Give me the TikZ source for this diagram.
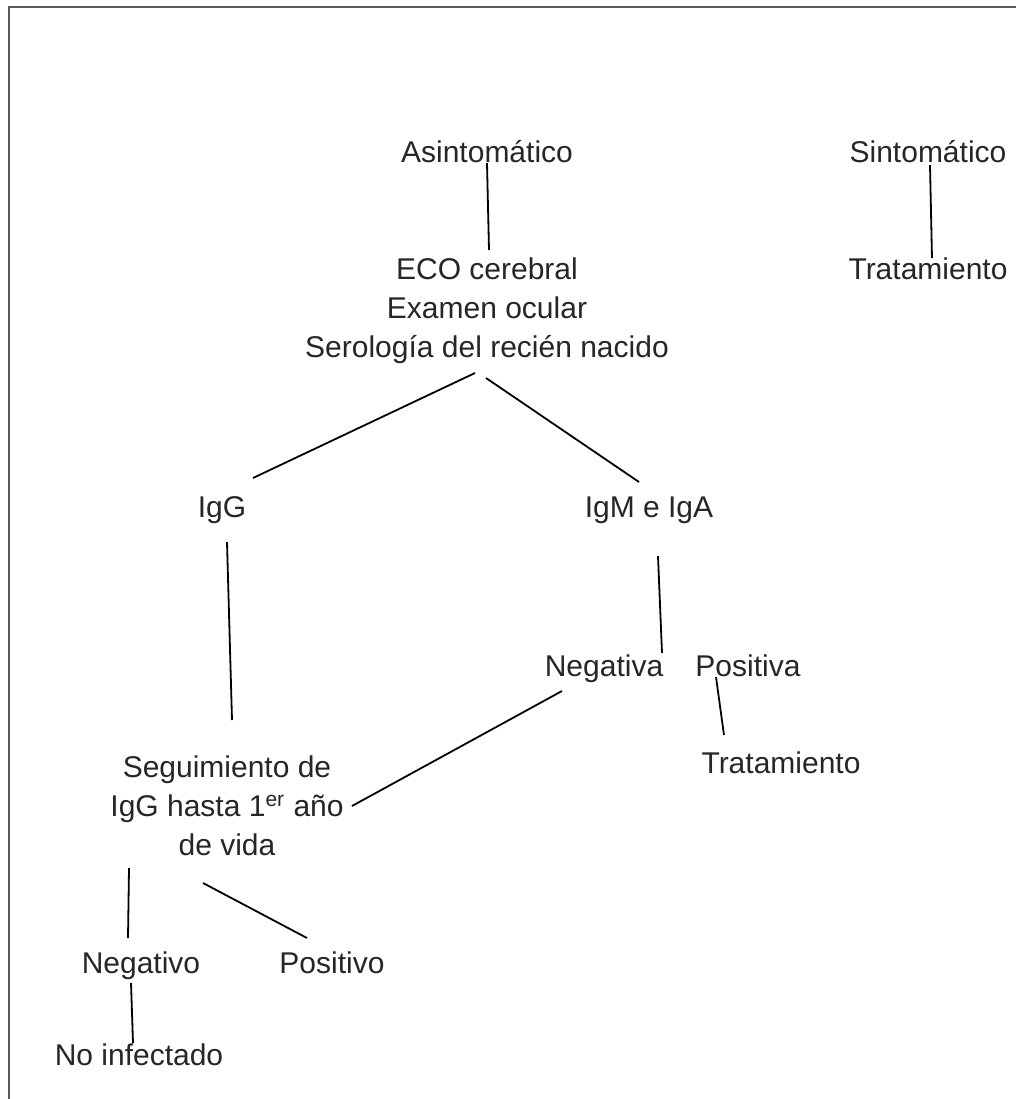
\documentclass[tikz,border=0pt]{standalone}
\usepackage{fontspec}
\setmainfont{Liberation Sans}
\usetikzlibrary{calc}

\begin{document}
\begin{tikzpicture}[x=0.5pt, y=-0.5pt,
    txt/.style={inner sep=0pt, text=black!85, font=\fontsize{15}{19.5}\selectfont},
    multi/.style={txt, align=center},
    conn/.style={line width=0.9pt}]
    \useasboundingbox (0,0) rectangle (1016,1099);
    \draw[black!65, line width=1.3pt] (9,1099) -- (9,7) -- (1016,7);

    \node[txt, anchor=base] (asin) at (487,162) {Asintomático};
    \node[txt, anchor=base] (sint) at (928,162) {Sintomático};
    \node[txt, anchor=base] (trat1) at (928,279) {Tratamiento};
    \node[multi] (eco) at (487,311) {ECO cerebral\\Examen ocular\\Serología del recién nacido};
    \node[txt, anchor=base] (igg) at (222,517) {IgG};
    \node[txt, anchor=base] (igm) at (649,517) {IgM e IgA};
    \node[txt, anchor=base] (neg) at (604,676) {Negativa};
    \node[txt, anchor=base] (pos) at (748,676) {Positiva};
    \node[txt, anchor=base] (trat2) at (781,773) {Tratamiento};
    \node[multi] (seg) at (227,806) {Seguimiento de\\IgG hasta 1\textsuperscript{er} año\\de vida};
    \node[txt, anchor=base] (nego) at (141,973) {Negativo};
    \node[txt, anchor=base] (posi) at (332,973) {Positivo};
    \node[txt, anchor=base] (noinf) at (139,1065) {No infectado};

    \draw[conn] ($(asin.base)+(0,1)$) -- ($(eco.center)+(2,-61)$);
    \draw[conn] ($(sint.base)+(2,3)$) -- ($(trat1.base)+(4,-21)$);
    \draw[conn] ($(eco.center)+(-12,62)$) -- ($(igg.base)+(31,-39)$);
    \draw[conn] ($(eco.center)+(-1,67)$) -- ($(igm.base)+(-10,-35)$);
    \draw[conn] ($(igg.base)+(5,25)$) -- ($(seg.center)+(5,-86)$);
    \draw[conn] ($(igm.base)+(9,39)$) -- ($(neg.base)+(58,-23)$);
    \draw[conn] ($(pos.base)+(-32,1)$) -- ($(trat2.base)+(-57,-38)$);
    \draw[conn] ($(neg.base)+(-42,15)$) -- ($(seg.center)+(125,0)$);
    \draw[conn] ($(seg.center)+(-98,62)$) -- ($(nego.base)+(-13,-35)$);
    \draw[conn] ($(seg.center)+(-24,77)$) -- ($(posi.base)+(-25,-35)$);
    \draw[conn] ($(nego.base)+(-10,10)$) -- ($(noinf.base)+(-6,-22)$);
\end{tikzpicture}
\end{document}
